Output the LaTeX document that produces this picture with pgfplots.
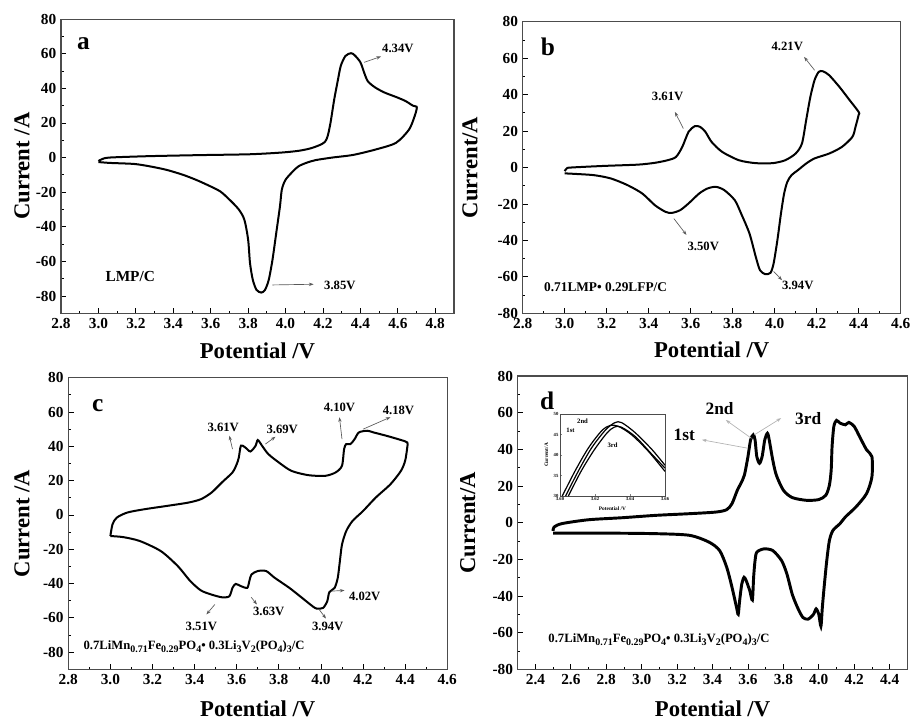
\documentclass[border=0pt]{standalone}
\usepackage{pgfplots}
\pgfplotsset{compat=1.18}
\usepackage{fontspec}
\setmainfont{Liberation Serif}
\usetikzlibrary{arrows.meta}
\newcommand{\sbs}[1]{\raisebox{-0.5ex}{\fontsize{7.5}{8}\selectfont #1}}
\newcommand{\formula}{0.7LiMn\sbs{0.71}Fe\sbs{0.29}PO\sbs{4}• 0.3Li\sbs{3}V\sbs{2}(PO\sbs{4})\sbs{3}/C}
\pgfplotsset{
  cv/.style={scale only axis, anchor=south west,
    axis line style={gray!60!black, line width=0.8pt},
    tick style={black, line width=0.6pt},
    major tick length=4pt, minor tick length=2pt,
    tick align=inside, xtick pos=bottom, ytick pos=left,
    minor x tick num=1, minor y tick num=1,
    /pgf/number format/assume math mode=true,
    ticklabel style={font=\fontsize{11.5}{13}\selectfont\bfseries},
    xticklabel style={/pgf/number format/.cd,fixed,fixed zerofill,precision=1},
    label style={font=\fontsize{17}{19}\selectfont\bfseries},
    ytick={-80,-60,...,80},
    clip=false,
  },
  curve/.style={black, line width=1.5pt, smooth, tension=0.45},
}
\tikzset{ann/.style={font=\fontsize{9.5}{10}\selectfont\bfseries},
  arr/.style={gray!70!black, line width=0.5pt, -{Stealth[length=3.5pt,width=2.5pt]}},
  lab/.style={font=\fontsize{19}{20}\selectfont\bfseries}}
\begin{document}
\begin{tikzpicture}
\useasboundingbox (0,0) rectangle (682.5pt,541.5pt);
% ---------------- a
\begin{axis}[cv, at={(45.75pt,306.5pt)}, width=294.75pt, height=220.7pt,
  xmin=2.8, xmax=4.9, ymin=-90, ymax=80, xtick={2.8,3.0,...,4.81},
  xlabel={Potential /V}, ylabel={Current /A},
  xlabel style={at={(axis description cs:0.5,-0.126)},anchor=center},
  ylabel style={at={(axis description cs:-0.099,0.5)},anchor=center}]
\addplot[curve] coordinates {
(3.0,-2.0) (3.02,-0.9) (3.06,0) (3.27,0.8) (3.54,1.4) (3.81,1.9) (3.98,2.9) (4.07,3.9) (4.13,5.2) (4.18,7.1) (4.21,9) (4.225,12.4) (4.24,20) (4.26,33.6) (4.28,45) (4.295,53) (4.32,58.7) (4.35,60.3) (4.37,59) (4.40,55) (4.42,49) (4.44,44) (4.48,40.4) (4.53,37.5) (4.59,35) (4.64,32.7) (4.68,30) (4.70,29.4) (4.70,27.8) (4.69,24) (4.66,16.2) (4.59,8.5) (4.48,4.6) (4.36,1.5) (4.25,0) (4.16,-1.5) (4.11,-3.1) (4.07,-5) (4.04,-7.9) (4.0,-12.8) (3.98,-18.5) (3.97,-28.2) (3.95,-43.7) (3.93,-59.1) (3.91,-70.7) (3.89,-76.5) (3.87,-78) (3.845,-76.5) (3.825,-70.7) (3.81,-61) (3.80,-47.5) (3.78,-36) (3.75,-30) (3.70,-24.3) (3.65,-19.5) (3.58,-15.7) (3.52,-12.8) (3.45,-9.9) (3.36,-7) (3.27,-5) (3.19,-3.7) (3.06,-3.1) (3.0,-2.6)
};
\node[lab] at (axis cs:2.92,65.5) {a};
\node[ann] at (axis cs:4.60,63) {4.34V};
\draw[arr] (axis cs:4.42,55) -- (axis cs:4.51,58.4);
\node[font=\fontsize{11.5}{12}\selectfont\bfseries] at (axis cs:3.17,-68.8) {LMP/C};
\node[ann] at (axis cs:4.29,-73.6) {3.85V};
\draw[arr] (axis cs:3.93,-73.6) -- (axis cs:4.15,-73.2);
\end{axis}
% ---------------- b
\begin{axis}[cv, at={(392pt,306.5pt)}, width=283.5pt, height=218.7pt,
  xmin=2.8, xmax=4.6, ymin=-80, ymax=80, xtick={2.8,3.0,...,4.61},
  xlabel={Potential /V}, ylabel={Current/A},
  xlabel style={at={(axis description cs:0.5,-0.126)},anchor=center},
  ylabel style={at={(axis description cs:-0.139,0.5)},anchor=center}]
\addplot[curve] coordinates {
(3.0,-2.0) (3.01,-0.5) (3.03,0) (3.19,0.9) (3.35,1.6) (3.43,2.6) (3.49,4) (3.53,5.8) (3.56,11.3) (3.59,19.6) (3.62,22.7) (3.645,22.3) (3.67,19.6) (3.70,14) (3.75,8.6) (3.83,4) (3.91,2.4) (3.99,2.4) (4.05,4) (4.10,7.7) (4.13,13.2) (4.15,26) (4.17,38.8) (4.19,48) (4.21,52.5) (4.23,52.8) (4.26,50.6) (4.31,44) (4.35,38) (4.40,30.5) (4.40,29) (4.385,22.3) (4.37,16.8) (4.32,11.3) (4.26,7.7) (4.19,5) (4.15,2.2) (4.11,-1.5) (4.08,-4.2) (4.06,-7.9) (4.045,-14.3) (4.03,-25.2) (4.013,-39.8) (3.995,-52.6) (3.98,-57.8) (3.955,-58.5) (3.93,-56.3) (3.91,-49) (3.88,-36.2) (3.84,-25.2) (3.81,-17.9) (3.76,-12.4) (3.72,-10.6) (3.68,-11.5) (3.64,-14.3) (3.59,-19.7) (3.55,-23.4) (3.51,-24.9) (3.48,-24.3) (3.43,-20.7) (3.37,-14.3) (3.30,-9.7) (3.22,-6) (3.14,-4.2) (3.05,-3.5) (3.0,-3.2)
};
\node[lab] at (axis cs:2.92,66.2) {b};
\node[ann] at (axis cs:4.06,66.2) {4.21V};
\draw[arr] (axis cs:4.19,53.4) -- (axis cs:4.14,60.7);
\node[ann] at (axis cs:3.49,38.8) {3.61V};
\draw[arr] (axis cs:3.565,21.4) -- (axis cs:3.525,30.5);
\node[ann] at (axis cs:3.66,-43.5) {3.50V};
\draw[arr] (axis cs:3.52,-28) -- (axis cs:3.58,-37);
\node[ann] at (axis cs:4.11,-64.5) {3.94V};
\draw[arr] (axis cs:3.995,-57) -- (axis cs:4.035,-61.8);
\node[ann, anchor=west, font=\fontsize{10}{11}\selectfont\bfseries] at (axis cs:2.88,-65.4) {0.71LMP• 0.29LFP/C};
\end{axis}
% ---------------- c
\begin{axis}[cv, at={(51.2pt,39.5pt)}, width=284.25pt, height=218.7pt,
  xmin=2.8, xmax=4.6, ymin=-90, ymax=80, xtick={2.8,3.0,...,4.61},
  xlabel={Potential /V}, ylabel={Current /A},
  xlabel style={at={(axis description cs:0.5,-0.137)},anchor=center},
  ylabel style={at={(axis description cs:-0.122,0.5)},anchor=center}]
\addplot[curve] coordinates {
(3.0,-12.3) (3.01,-5.5) (3.03,-1.6) (3.08,1.4) (3.16,3.3) (3.27,5.3) (3.37,7.2) (3.43,9.2) (3.48,13) (3.53,19) (3.58,24.8) (3.60,29.6) (3.61,33.5) (3.62,40.4) (3.64,39.4) (3.665,37) (3.69,40.4) (3.70,43.7) (3.72,40.4) (3.75,35.5) (3.80,30.6) (3.86,25.7) (3.94,23.2) (4.02,22.8) (4.07,24.8) (4.10,28.7) (4.11,38.4) (4.12,41.3) (4.14,41.3) (4.16,44.2) (4.18,48.1) (4.22,49.1) (4.25,48.1) (4.31,46.2) (4.38,43.7) (4.41,42.3) (4.41,39.4) (4.40,31.6) (4.38,25.7) (4.33,17.9) (4.26,10.1) (4.20,2.3) (4.15,-3.5) (4.12,-9.4) (4.10,-17.2) (4.09,-26.9) (4.08,-36.6) (4.065,-42.5) (4.04,-45) (4.03,-50.3) (4.01,-54.2) (3.98,-54.6) (3.96,-53.2) (3.91,-48.3) (3.85,-42.5) (3.78,-36.6) (3.74,-32.7) (3.70,-32.7) (3.67,-34.7) (3.66,-38.6) (3.65,-42.5) (3.62,-41.5) (3.595,-40.2) (3.58,-42.5) (3.565,-47.4) (3.53,-48) (3.48,-46.4) (3.43,-44) (3.38,-38.6) (3.32,-29.8) (3.24,-21.1) (3.14,-15.2) (3.06,-12.9) (3.0,-12.3)
};
\node[lab] at (axis cs:2.94,63.7) {c};
\node[ann] at (axis cs:3.536,51) {3.61V};
\draw[arr] (axis cs:3.58,38.4) -- (axis cs:3.565,46.2);
\node[ann] at (axis cs:3.816,50) {3.69V};
\draw[arr] (axis cs:3.736,41.3) -- (axis cs:3.784,45.6);
\node[ann] at (axis cs:4.088,62.8) {4.10V};
\draw[arr] (axis cs:4.10,44.2) -- (axis cs:4.088,57);
\node[ann] at (axis cs:4.368,61.2) {4.18V};
\draw[arr] (axis cs:4.2,50) -- (axis cs:4.33,57);
\node[ann] at (axis cs:4.208,-47.4) {4.02V};
\draw[arr] (axis cs:4.048,-44.4) -- (axis cs:4.112,-44);
\node[ann] at (axis cs:3.432,-64.9) {3.51V};
\draw[arr] (axis cs:3.496,-52.2) -- (axis cs:3.456,-58);
\node[ann] at (axis cs:3.752,-56.5) {3.63V};
\draw[arr] (axis cs:3.669,-48) -- (axis cs:3.696,-52.2);
\node[ann] at (axis cs:4.032,-64.9) {3.94V};
\draw[arr] (axis cs:3.992,-55.2) -- (axis cs:4.024,-60.4);
\node[anchor=west, font=\fontsize{9.5}{10}\selectfont\bfseries] at (axis cs:2.85,-77.0) {\formula};
\end{axis}
% ---------------- d
\begin{axis}[cv, at={(388.3pt,39.5pt)}, width=292.2pt, height=220pt,
  xmin=2.3, xmax=4.5, ymin=-80, ymax=80, xtick={2.4,2.6,...,4.41},
  xlabel={Potential /V}, ylabel={Current/A},
  xlabel style={at={(axis description cs:0.5,-0.136)},anchor=center},
  ylabel style={at={(axis description cs:-0.128,0.5)},anchor=center}]
\addplot[curve, line width=2.2pt] coordinates {
(2.5,-4.5) (2.505,-2.4) (2.55,-0.5) (2.70,1.6) (2.89,2.7) (3.08,4) (3.27,4.9) (3.42,5.8) (3.48,7.1) (3.51,10.4) (3.54,17.7) (3.56,21.4) (3.58,26) (3.60,36) (3.615,45.2) (3.63,47.9) (3.64,45.2) (3.65,36) (3.665,32.4) (3.68,36) (3.695,45.2) (3.71,48.8) (3.72,45.2) (3.74,34.2) (3.76,26) (3.80,17.7) (3.85,13.7) (3.93,12.2) (4.00,12.6) (4.04,15) (4.06,20.5) (4.07,28.7) (4.075,41.5) (4.085,52.5) (4.10,55.8) (4.12,54.3) (4.15,53.4) (4.17,54.7) (4.20,52.5) (4.23,47) (4.27,39.7) (4.30,36) (4.30,25) (4.27,15.9) (4.21,8.6) (4.15,3.1) (4.12,-0.5) (4.08,-4.2) (4.06,-9.7) (4.045,-20.7) (4.03,-35.3) (4.02,-46.3) (4.012,-56.5) (4.0,-50) (3.985,-47) (3.97,-50) (3.94,-52.6) (3.91,-51.7) (3.88,-46.3) (3.85,-39) (3.82,-28) (3.79,-20.7) (3.74,-15.2) (3.69,-14.3) (3.65,-16.1) (3.64,-20.7) (3.632,-29.8) (3.625,-42.2) (3.61,-37) (3.59,-31.6) (3.578,-29.8) (3.565,-33.5) (3.553,-42.6) (3.545,-50) (3.535,-46) (3.51,-35.3) (3.48,-24.3) (3.44,-15.2) (3.38,-10.6) (3.27,-6.9) (3.08,-6) (2.80,-5.7) (2.5,-5.7)
};
\node[lab] at (axis cs:2.466,66.2) {d};
\node[font=\fontsize{13}{14}\selectfont\bfseries] at (axis cs:3.44,62.5) {2nd};
\node[font=\fontsize{13}{14}\selectfont\bfseries] at (axis cs:3.94,57) {3rd};
\node[font=\fontsize{13}{14}\selectfont\bfseries] at (axis cs:3.24,47.9) {1st};
\draw[arr, gray!60] (axis cs:3.60,40.6) -- (axis cs:3.34,45.2);
\draw[arr, gray!60] (axis cs:3.62,46) -- (axis cs:3.475,56);
\draw[arr, gray!60] (axis cs:3.636,47.9) -- (axis cs:3.787,57);
\node[anchor=west, font=\fontsize{9.5}{10}\selectfont\bfseries] at (axis cs:2.447,-64.0) {\formula};
\end{axis}
% ---------------- inset
\begin{axis}[scale only axis, anchor=south west, at={(420pt,169.5pt)}, width=78.75pt, height=61.5pt,
  xmin=3.60, xmax=3.66, ymin=30, ymax=50,
  xtick={3.60,3.62,3.64,3.66}, ytick={30,35,40,45,50},
  axis line style={gray!60!black, line width=0.5pt},
  tick align=inside, xtick pos=bottom, ytick pos=left, major tick length=1.5pt,
  /pgf/number format/assume math mode=true,
  xticklabel style={/pgf/number format/.cd,fixed,fixed zerofill,precision=2},
  ticklabel style={font=\fontsize{3.5}{4}\selectfont\bfseries, inner sep=1pt},
  label style={font=\fontsize{4}{5}\selectfont\bfseries},
  xlabel={Potential /V}, ylabel={Current/A},
  xlabel style={at={(axis description cs:0.5,-0.16)},anchor=center},
  ylabel style={at={(axis description cs:-0.13,0.5)},anchor=center},
  clip=true]
\addplot[black, line width=0.9pt, smooth] coordinates {(3.6013,30) (3.6086,36.1) (3.6162,41.7) (3.6238,45.9) (3.6286,47.2) (3.6333,47.0) (3.641,44.9) (3.6505,40.9) (3.66,36.0)};
\addplot[black, line width=0.9pt, smooth] coordinates {(3.6032,30) (3.6105,36.1) (3.618,41.7) (3.626,46.1) (3.6314,47.9) (3.6352,47.9) (3.6428,45.5) (3.6524,41.4) (3.66,37.5)};
\addplot[black, line width=0.9pt, smooth] coordinates {(3.6048,30) (3.612,36) (3.6195,41.2) (3.6267,45.3) (3.631,46.8) (3.635,46.8) (3.643,44.5) (3.652,40.4) (3.66,36.8)};
\node[font=\fontsize{5}{6}\selectfont\bfseries] at (axis cs:3.6129,48.3) {2nd};
\node[font=\fontsize{5}{6}\selectfont\bfseries] at (axis cs:3.6060,46.0) {1st};
\node[font=\fontsize{5}{6}\selectfont\bfseries] at (axis cs:3.6300,42.3) {3rd};
\end{axis}
\end{tikzpicture}
\end{document}
